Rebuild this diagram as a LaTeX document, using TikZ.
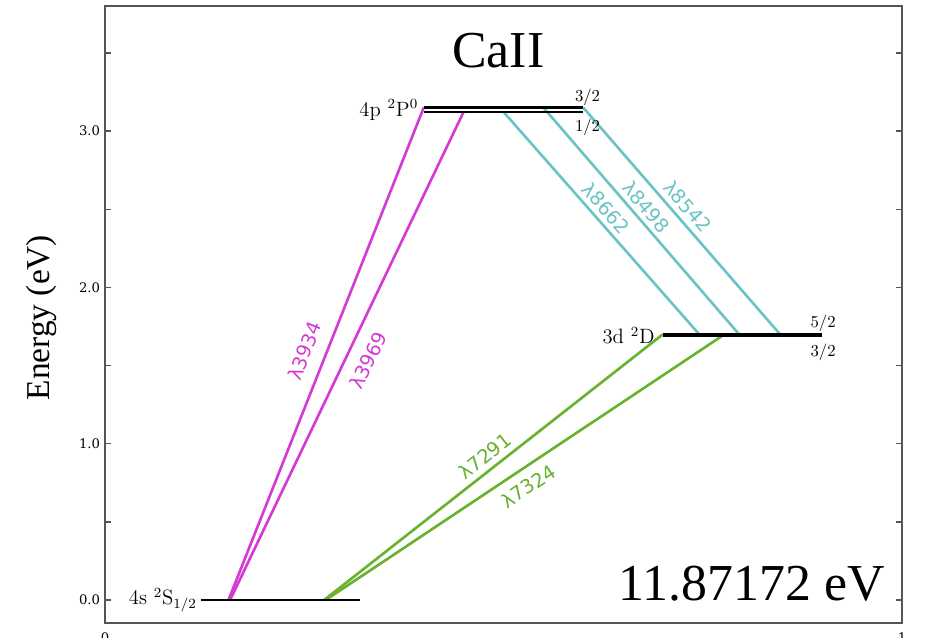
\documentclass[tikz,border=0pt]{standalone}
\usepackage{fontspec}
\newfontfamily\timesfont{Liberation Serif}
\newfontfamily\tickfont{DejaVu Serif}
\newfontfamily\lamfont{DejaVu Sans}
\usetikzlibrary{positioning}
\definecolor{HKLine}{RGB}{212,58,212}
\definecolor{IRTLine}{RGB}{108,195,195}
\definecolor{ForbLine}{RGB}{104,178,48}
\definecolor{AxisGray}{RGB}{85,85,85}

\begin{document}
\begin{tikzpicture}[x=15.94cm, y=3.126cm, level/.style={line width=1.5pt,draw=black}, trans/.style={line width=1.5pt}, wl/.style={sloped,inner sep=3pt,font=\lamfont\fontsize{11}{13}\selectfont}, lvllabel/.style={inner sep=0pt,font=\fontsize{11.8}{14}\selectfont}, jlabel/.style={inner sep=0pt,font=\fontsize{9.5}{11}\selectfont}, ticklabel/.style={inner sep=0pt,font=\tickfont\fontsize{7.5}{9}\selectfont}, bigtext/.style={inner sep=0pt,font=\timesfont\fontsize{29.5}{35}\selectfont}, axisline/.style={draw=AxisGray,line width=1.1pt}, tickmark/.style={draw=AxisGray,line width=0.8pt}]
\useasboundingbox (-0.1317,-0.2431) rectangle (1.0289,3.8388);

% axes frame and ticks
\draw[axisline] (0,-0.147) rectangle (1,3.8);
\foreach \e in {0,0.5,...,3.5} {
  \draw[tickmark] (0,\e) -- (0.0075,\e);
  \draw[tickmark] (1,\e) -- (0.9925,\e);
}
\foreach \e in {0,1,2,3}
  \node[ticklabel,anchor=east] (ytick\e) at (-0.0057,\e) {\e.0};
\node[ticklabel,anchor=north] (xtick0) at (0,-0.2047) {0};
\node[ticklabel,anchor=north] (xtick1) at (1,-0.2047) {1};
\node[rotate=90,anchor=base,font=\timesfont\fontsize{19}{22}\selectfont] (ylabel) at (-0.069,1.807) {Energy (eV)};

\node[bigtext,anchor=base] (title) at (0.4935,3.41) {CaII};
\node[bigtext,anchor=base east] (ionpot) at (0.9787,0) {11.87172 eV};

% levels
\coordinate (Sl) at (0.12,0);
\coordinate (Sr) at (0.32,0);
\coordinate (Pal) at (0.4,3.151);
\coordinate (Par) at (0.6,3.151);
\coordinate (Pbl) at (0.4,3.123);
\coordinate (Pbr) at (0.6,3.123);
\coordinate (Dal) at (0.7,1.700);
\coordinate (Dar) at (0.9,1.700);
\coordinate (Dbl) at (0.7,1.692);
\coordinate (Dbr) at (0.9,1.692);

% transition end points
\coordinate (s3934) at (0.155,0);
\coordinate (p3934) at (0.4,3.151);
\coordinate (s3969) at (0.157,0);
\coordinate (p3969) at (0.45,3.123);
\coordinate (p8662) at (0.5,3.123);
\coordinate (d8662) at (0.747,1.692);
\coordinate (p8498) at (0.55,3.151);
\coordinate (d8498) at (0.797,1.692);
\coordinate (p8542) at (0.6,3.151);
\coordinate (d8542) at (0.847,1.700);
\coordinate (s7291) at (0.275,0);
\coordinate (d7291) at (0.7,1.700);
\coordinate (s7324) at (0.277,0);
\coordinate (d7324) at (0.775,1.692);

\draw[trans,HKLine] (s3934) -- node[wl,above=4pt,pos=0.49] (l3934) {λ3934} (p3934);
\draw[trans,HKLine] (s3969) -- node[wl,below=4pt,pos=0.51] (l3969) {λ3969} (p3969);
\draw[trans,IRTLine] (p8662) -- node[wl,above=-0.5pt,pos=0.47] (l8662) {λ8662} (d8662);
\draw[trans,IRTLine] (p8498) -- node[wl,above=-0.5pt,pos=0.473] (l8498) {λ8498} (d8498);
\draw[trans,IRTLine] (p8542) -- node[wl,above=0pt,pos=0.477] (l8542) {λ8542} (d8542);
\draw[trans,ForbLine] (s7291) -- node[wl,above=0pt,pos=0.5] (l7291) {λ7291} (d7291);
\draw[trans,ForbLine] (s7324) -- node[wl,below=2.1pt,pos=0.486] (l7324) {λ7324} (d7324);

\draw[level] (Sl) -- (Sr);
\draw[level] (Pal) -- (Par);
\draw[level] (Pbl) -- (Pbr);
\draw[level] (Dal) -- (Dar);
\draw[level] (Dbl) -- (Dbr);

\node[lvllabel,left=2pt of Sl] (labS) {4s $^{2}\mathrm{S}_{1/2}$};
\node[lvllabel,left=3pt of Pbl,yshift=1pt] (labP) {4p $^{2}\mathrm{P}^{0}$};
\node[lvllabel,left=4.5pt of Dbl] (labD) {3d $^{2}\mathrm{D}$};
\node[jlabel,above=1pt of Par,xshift=2.5pt] (j32P) {3/2};
\node[jlabel,below=4pt of Pbr,xshift=2.5pt] (j12P) {1/2};
\node[jlabel,above=1.2pt of Dar,xshift=0.5pt] (j52D) {5/2};
\node[jlabel,below=4.8pt of Dbr,xshift=0.5pt] (j32D) {3/2};
\end{tikzpicture}
\end{document}
